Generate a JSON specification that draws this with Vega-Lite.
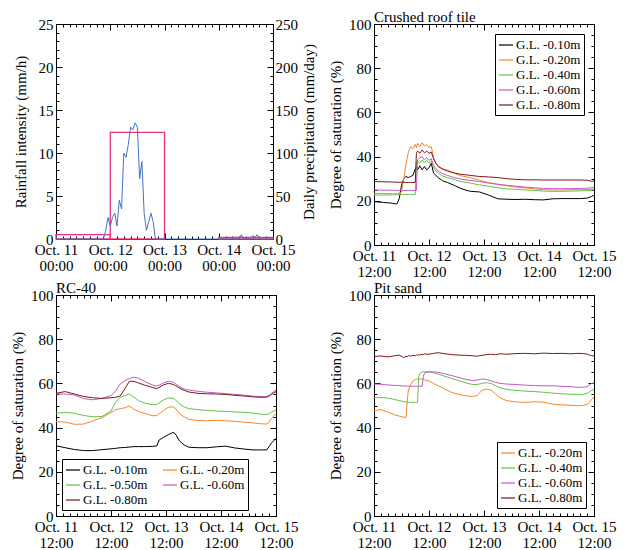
{
"$schema": "https://vega.github.io/schema/vega-lite/v6.json",
"background": "white",
"padding": {"left": 10, "top": 9, "right": 5, "bottom": 0},
"config": {
  "font": "Liberation Serif",
  "view": {"stroke": "black", "strokeWidth": 1},
  "axis": {"labelFont": "Liberation Serif", "titleFont": "Liberation Serif", "labelFontSize": 15, "titleFontSize": 15, "titleFontWeight": "normal", "labelColor": "black", "titleColor": "black", "tickColor": "black", "domainColor": "black", "grid": false, "labelOverlap": false, "labelFlush": false, "labelBound": false},
  "title": {"font": "Liberation Serif", "fontSize": 15, "fontWeight": "normal", "anchor": "start", "frame": "group", "offset": -8, "color": "black"},
  "legend": {"labelFont": "Liberation Serif", "labelFontSize": 13, "labelColor": "black", "symbolType": "stroke", "symbolSize": 196, "symbolStrokeWidth": 1.2, "strokeColor": "black", "fillColor": "white", "padding": 3, "rowPadding": 0, "labelOffset": 2}
},
"datasets": {
  "rain": [
    {"t": "2019-10-11T00:00", "r": 0}, {"t": "2019-10-11T21:00", "r": 0}, {"t": "2019-10-11T22:00", "r": 1.0}, {"t": "2019-10-11T23:00", "r": 2.5},
    {"t": "2019-10-12T00:00", "r": 1.5}, {"t": "2019-10-12T01:00", "r": 2.5}, {"t": "2019-10-12T02:00", "r": 3.0}, {"t": "2019-10-12T03:00", "r": 1.5},
    {"t": "2019-10-12T04:00", "r": 4.5}, {"t": "2019-10-12T05:00", "r": 3.5}, {"t": "2019-10-12T06:00", "r": 10.0}, {"t": "2019-10-12T07:00", "r": 9.5},
    {"t": "2019-10-12T08:00", "r": 11.0}, {"t": "2019-10-12T09:00", "r": 13.0}, {"t": "2019-10-12T10:00", "r": 12.7}, {"t": "2019-10-12T11:00", "r": 13.5},
    {"t": "2019-10-12T12:00", "r": 13.0}, {"t": "2019-10-12T13:00", "r": 7.0}, {"t": "2019-10-12T14:00", "r": 9.0}, {"t": "2019-10-12T15:00", "r": 3.0},
    {"t": "2019-10-12T16:00", "r": 1.0}, {"t": "2019-10-12T17:00", "r": 2.0}, {"t": "2019-10-12T18:00", "r": 3.0}, {"t": "2019-10-12T19:00", "r": 2.0},
    {"t": "2019-10-12T20:00", "r": 0}, {"t": "2019-10-14T09:00", "r": 0}, {"t": "2019-10-14T10:00", "r": 0.5}, {"t": "2019-10-14T11:00", "r": 0},
    {"t": "2019-10-14T14:00", "r": 0}, {"t": "2019-10-14T15:00", "r": 0.4}, {"t": "2019-10-14T16:00", "r": 0.2}, {"t": "2019-10-14T17:00", "r": 0.5},
    {"t": "2019-10-14T18:00", "r": 0}, {"t": "2019-10-15T00:00", "r": 0}
  ],
  "daily": [
    {"s": "2019-10-11T00:00", "e": "2019-10-12T00:00", "p": 5},
    {"s": "2019-10-12T00:00", "e": "2019-10-13T00:00", "p": 124},
    {"s": "2019-10-14T00:00", "e": "2019-10-15T00:00", "p": 2}
  ],
  "crt": [
    {"t": "2019-10-11T12:00", "d10": 19.6, "d20": 23.4, "d40": 22.6, "d60": 24.9, "d80": 28.7},
    {"t": "2019-10-11T16:00", "d10": 19.3, "d20": 23.3, "d40": 22.6, "d60": 24.8, "d80": 28.6},
    {"t": "2019-10-11T20:00", "d10": 18.9, "d20": 23.2, "d40": 22.7, "d60": 24.8, "d80": 28.5},
    {"t": "2019-10-11T22:00", "d10": 18.5, "d20": 23.2, "d40": 22.7, "d60": 24.7, "d80": 28.4},
    {"t": "2019-10-11T23:00", "d10": 21, "d20": 23.5, "d40": 22.8, "d60": 24.7, "d80": 28.4},
    {"t": "2019-10-12T00:00", "d10": 27, "d20": 24, "d40": 22.8, "d60": 24.7, "d80": 28.4},
    {"t": "2019-10-12T01:00", "d10": 30, "d20": 30, "d40": 22.8, "d60": 24.7, "d80": 28.4},
    {"t": "2019-10-12T02:00", "d10": 31, "d20": 37, "d40": 22.9, "d60": 24.7, "d80": 28.3},
    {"t": "2019-10-12T03:00", "d10": 30.5, "d20": 42, "d40": 22.9, "d60": 24.7, "d80": 28.3},
    {"t": "2019-10-12T04:00", "d10": 31, "d20": 44.5, "d40": 22.9, "d60": 24.7, "d80": 28.3},
    {"t": "2019-10-12T05:00", "d10": 31.5, "d20": 43.5, "d40": 22.9, "d60": 24.7, "d80": 28.3},
    {"t": "2019-10-12T06:00", "d10": 34.5, "d20": 45.5, "d40": 22.9, "d60": 24.7, "d80": 28.3},
    {"t": "2019-10-12T06:30", "d10": 35.5, "d20": 44, "d40": 37.5, "d60": 24.7, "d80": 41.5},
    {"t": "2019-10-12T07:00", "d10": 34, "d20": 46, "d40": 38, "d60": 38.5, "d80": 42.5},
    {"t": "2019-10-12T08:00", "d10": 35.8, "d20": 44.5, "d40": 37, "d60": 39.5, "d80": 41.5},
    {"t": "2019-10-12T09:00", "d10": 34, "d20": 46.3, "d40": 38.5, "d60": 40, "d80": 43},
    {"t": "2019-10-12T10:00", "d10": 35.5, "d20": 44.8, "d40": 37.2, "d60": 38.5, "d80": 41.7},
    {"t": "2019-10-12T11:00", "d10": 34, "d20": 45.5, "d40": 38.3, "d60": 39.5, "d80": 42.5},
    {"t": "2019-10-12T12:00", "d10": 35, "d20": 44, "d40": 37, "d60": 38.3, "d80": 41.5},
    {"t": "2019-10-12T13:00", "d10": 37, "d20": 44.5, "d40": 38, "d60": 39, "d80": 42},
    {"t": "2019-10-12T14:00", "d10": 32.5, "d20": 39.5, "d40": 35, "d60": 36, "d80": 39},
    {"t": "2019-10-12T15:00", "d10": 31.5, "d20": 37, "d40": 33.5, "d60": 34.5, "d80": 37},
    {"t": "2019-10-12T16:00", "d10": 30.5, "d20": 35.8, "d40": 32.5, "d60": 33.5, "d80": 35.5},
    {"t": "2019-10-12T18:00", "d10": 29, "d20": 34.5, "d40": 31.2, "d60": 32.3, "d80": 34.3},
    {"t": "2019-10-12T20:00", "d10": 28.3, "d20": 33.8, "d40": 30.5, "d60": 31.5, "d80": 33.5},
    {"t": "2019-10-12T23:00", "d10": 27, "d20": 32.5, "d40": 29.6, "d60": 30.5, "d80": 32.6},
    {"t": "2019-10-13T02:00", "d10": 25.5, "d20": 31.3, "d40": 28.7, "d60": 29.8, "d80": 32},
    {"t": "2019-10-13T06:00", "d10": 24.3, "d20": 30.5, "d40": 28, "d60": 29.2, "d80": 31.5},
    {"t": "2019-10-13T10:00", "d10": 24, "d20": 29.3, "d40": 27.2, "d60": 28.7, "d80": 31},
    {"t": "2019-10-13T14:00", "d10": 22.6, "d20": 28.2, "d40": 26.6, "d60": 28, "d80": 30.8},
    {"t": "2019-10-13T18:00", "d10": 20.9, "d20": 27.4, "d40": 25.9, "d60": 27.5, "d80": 30.5},
    {"t": "2019-10-13T22:00", "d10": 20.7, "d20": 26.8, "d40": 25.4, "d60": 27, "d80": 30},
    {"t": "2019-10-14T02:00", "d10": 20.6, "d20": 26.2, "d40": 25.2, "d60": 26.6, "d80": 29.7},
    {"t": "2019-10-14T06:00", "d10": 20.7, "d20": 25.8, "d40": 24.9, "d60": 26.2, "d80": 29.5},
    {"t": "2019-10-14T10:00", "d10": 20.5, "d20": 25.4, "d40": 24.7, "d60": 25.9, "d80": 29.5},
    {"t": "2019-10-14T14:00", "d10": 20.4, "d20": 25, "d40": 24.4, "d60": 25.6, "d80": 29.4},
    {"t": "2019-10-14T18:00", "d10": 20.9, "d20": 24.9, "d40": 24.3, "d60": 25.5, "d80": 29.4},
    {"t": "2019-10-14T22:00", "d10": 21, "d20": 24.9, "d40": 24.3, "d60": 25.5, "d80": 29.4},
    {"t": "2019-10-15T02:00", "d10": 21, "d20": 25, "d40": 24.4, "d60": 25.5, "d80": 29.4},
    {"t": "2019-10-15T06:00", "d10": 21, "d20": 25, "d40": 24.5, "d60": 25.6, "d80": 29.4},
    {"t": "2019-10-15T09:00", "d10": 21.2, "d20": 25.1, "d40": 24.6, "d60": 25.7, "d80": 29.3},
    {"t": "2019-10-15T11:00", "d10": 22, "d20": 25.2, "d40": 24.8, "d60": 25.9, "d80": 28.8},
    {"t": "2019-10-15T12:00", "d10": 22.6, "d20": 25.2, "d40": 24.9, "d60": 26, "d80": 29}
  ],
  "rc": [
    {"t": "2019-10-11T12:00", "d10": 31.8, "d20": 42.7, "d50": 46.5, "d60": 55.2, "d80": 55.5},
    {"t": "2019-10-11T16:00", "d10": 30.9, "d20": 42.5, "d50": 46.9, "d60": 55.2, "d80": 56.3},
    {"t": "2019-10-11T20:00", "d10": 30.1, "d20": 41.5, "d50": 46.5, "d60": 54.8, "d80": 55.2},
    {"t": "2019-10-12T00:00", "d10": 29.6, "d20": 41.6, "d50": 45.5, "d60": 53.1, "d80": 54.1},
    {"t": "2019-10-12T04:00", "d10": 29.6, "d20": 43, "d50": 44.9, "d60": 52.6, "d80": 53.5},
    {"t": "2019-10-12T08:00", "d10": 30, "d20": 44.5, "d50": 45, "d60": 53.2, "d80": 53.2},
    {"t": "2019-10-12T12:00", "d10": 30.4, "d20": 46.8, "d50": 47.5, "d60": 54.5, "d80": 53.5},
    {"t": "2019-10-12T14:00", "d10": 30.6, "d20": 48.1, "d50": 51.5, "d60": 56.5, "d80": 53.7},
    {"t": "2019-10-12T16:00", "d10": 30.9, "d20": 48.5, "d50": 53.7, "d60": 59.7, "d80": 54.3},
    {"t": "2019-10-12T18:00", "d10": 31, "d20": 49, "d50": 54.5, "d60": 61.2, "d80": 57.5},
    {"t": "2019-10-12T20:00", "d10": 31.2, "d20": 49.8, "d50": 55.2, "d60": 62.2, "d80": 61},
    {"t": "2019-10-12T22:00", "d10": 31.4, "d20": 48.3, "d50": 53.8, "d60": 62.8, "d80": 60.9},
    {"t": "2019-10-13T00:00", "d10": 31.4, "d20": 47.3, "d50": 52.2, "d60": 62.3, "d80": 60.2},
    {"t": "2019-10-13T03:00", "d10": 31.4, "d20": 46.4, "d50": 51, "d60": 60.7, "d80": 59.1},
    {"t": "2019-10-13T06:00", "d10": 31.5, "d20": 45.4, "d50": 50.4, "d60": 59.3, "d80": 58.2},
    {"t": "2019-10-13T08:00", "d10": 31.7, "d20": 45.4, "d50": 50.5, "d60": 58.8, "d80": 57.6},
    {"t": "2019-10-13T09:00", "d10": 34.4, "d20": 46.3, "d50": 51.2, "d60": 59.2, "d80": 58.2},
    {"t": "2019-10-13T11:00", "d10": 35.6, "d20": 47.8, "d50": 52.6, "d60": 60.3, "d80": 59.4},
    {"t": "2019-10-13T13:00", "d10": 36.8, "d20": 49.2, "d50": 53.4, "d60": 61, "d80": 60},
    {"t": "2019-10-13T15:00", "d10": 37.8, "d20": 49.4, "d50": 53.3, "d60": 60.6, "d80": 59.6},
    {"t": "2019-10-13T16:00", "d10": 37.3, "d20": 48.8, "d50": 52.7, "d60": 60, "d80": 59.1},
    {"t": "2019-10-13T18:00", "d10": 33.8, "d20": 46.2, "d50": 50.6, "d60": 58.5, "d80": 57.8},
    {"t": "2019-10-13T20:00", "d10": 32.1, "d20": 44.8, "d50": 49.3, "d60": 57.4, "d80": 56.8},
    {"t": "2019-10-13T22:00", "d10": 31.1, "d20": 43.7, "d50": 48.6, "d60": 57, "d80": 56.1},
    {"t": "2019-10-14T02:00", "d10": 30.9, "d20": 43.2, "d50": 48.1, "d60": 56.4, "d80": 55.5},
    {"t": "2019-10-14T06:00", "d10": 30.9, "d20": 43.1, "d50": 47.8, "d60": 56, "d80": 55.3},
    {"t": "2019-10-14T10:00", "d10": 31.3, "d20": 43.3, "d50": 47.5, "d60": 55.7, "d80": 55.2},
    {"t": "2019-10-14T14:00", "d10": 31.6, "d20": 43.1, "d50": 47.3, "d60": 55.4, "d80": 55},
    {"t": "2019-10-14T18:00", "d10": 30.8, "d20": 42.8, "d50": 47.1, "d60": 55, "d80": 54.6},
    {"t": "2019-10-14T22:00", "d10": 30.3, "d20": 42.5, "d50": 46.9, "d60": 54.7, "d80": 54.3},
    {"t": "2019-10-15T02:00", "d10": 29.9, "d20": 42.1, "d50": 46.6, "d60": 54.2, "d80": 53.9},
    {"t": "2019-10-15T06:00", "d10": 29.9, "d20": 41.7, "d50": 46, "d60": 54, "d80": 53.7},
    {"t": "2019-10-15T08:00", "d10": 29.9, "d20": 41.6, "d50": 45.9, "d60": 54.1, "d80": 53.8},
    {"t": "2019-10-15T09:00", "d10": 31.5, "d20": 42.5, "d50": 46.3, "d60": 54.6, "d80": 54.3},
    {"t": "2019-10-15T10:00", "d10": 33, "d20": 44, "d50": 47, "d60": 55.5, "d80": 55},
    {"t": "2019-10-15T12:00", "d10": 35.1, "d20": 46.5, "d50": 48, "d60": 57, "d80": 56.3}
  ],
  "ps": [
    {"t": "2019-10-11T12:00", "d20": 47.7, "d40": 53.5, "d60": 59.7, "d80": 72.2},
    {"t": "2019-10-11T15:00", "d20": 48.1, "d40": 53.6, "d60": 59.6, "d80": 72.4},
    {"t": "2019-10-11T18:00", "d20": 47, "d40": 53.4, "d60": 59.3, "d80": 72},
    {"t": "2019-10-11T21:00", "d20": 45.8, "d40": 52.7, "d60": 59.1, "d80": 72.5},
    {"t": "2019-10-11T23:00", "d20": 45.2, "d40": 52.2, "d60": 59, "d80": 72.8},
    {"t": "2019-10-12T01:00", "d20": 44.7, "d40": 51.8, "d60": 58.8, "d80": 71.7},
    {"t": "2019-10-12T02:00", "d20": 44.6, "d40": 51.6, "d60": 58.8, "d80": 72.3},
    {"t": "2019-10-12T02:30", "d20": 52, "d40": 51.5, "d60": 58.8, "d80": 72},
    {"t": "2019-10-12T03:00", "d20": 57, "d40": 51.5, "d60": 58.8, "d80": 72.6},
    {"t": "2019-10-12T04:00", "d20": 59.5, "d40": 51.4, "d60": 58.7, "d80": 72.3},
    {"t": "2019-10-12T05:00", "d20": 61.2, "d40": 51.4, "d60": 58.7, "d80": 72.8},
    {"t": "2019-10-12T06:00", "d20": 61.7, "d40": 51.4, "d60": 58.7, "d80": 72.5},
    {"t": "2019-10-12T06:30", "d20": 61.9, "d40": 51.4, "d60": 58.7, "d80": 73},
    {"t": "2019-10-12T07:00", "d20": 62, "d40": 51.4, "d60": 58.7, "d80": 72.7},
    {"t": "2019-10-12T07:30", "d20": 62, "d40": 63, "d60": 58.7, "d80": 73},
    {"t": "2019-10-12T08:00", "d20": 62, "d40": 64.5, "d60": 58.7, "d80": 72.8},
    {"t": "2019-10-12T09:00", "d20": 62, "d40": 65.2, "d60": 58.7, "d80": 73.2},
    {"t": "2019-10-12T09:30", "d20": 61.8, "d40": 65.3, "d60": 63, "d80": 73},
    {"t": "2019-10-12T10:00", "d20": 61.6, "d40": 65.3, "d60": 64.7, "d80": 73.3},
    {"t": "2019-10-12T12:00", "d20": 61.1, "d40": 65.2, "d60": 65.3, "d80": 73.2},
    {"t": "2019-10-12T14:00", "d20": 60, "d40": 64.8, "d60": 65.2, "d80": 73.6},
    {"t": "2019-10-12T16:00", "d20": 58.9, "d40": 64.2, "d60": 65, "d80": 73.9},
    {"t": "2019-10-12T19:00", "d20": 57.4, "d40": 63.2, "d60": 64.3, "d80": 73.4},
    {"t": "2019-10-12T22:00", "d20": 55.9, "d40": 62.2, "d60": 63.5, "d80": 73},
    {"t": "2019-10-13T01:00", "d20": 55, "d40": 61.2, "d60": 62.7, "d80": 72.8},
    {"t": "2019-10-13T04:00", "d20": 54.4, "d40": 60.3, "d60": 61.8, "d80": 72.7},
    {"t": "2019-10-13T07:00", "d20": 54.1, "d40": 59.5, "d60": 61.3, "d80": 72.5},
    {"t": "2019-10-13T09:00", "d20": 54.5, "d40": 59.5, "d60": 61.5, "d80": 72.3},
    {"t": "2019-10-13T11:00", "d20": 56.8, "d40": 60, "d60": 62, "d80": 72.7},
    {"t": "2019-10-13T13:00", "d20": 57.4, "d40": 60.3, "d60": 61.8, "d80": 73},
    {"t": "2019-10-13T15:00", "d20": 57, "d40": 60, "d60": 61.2, "d80": 73.2},
    {"t": "2019-10-13T17:00", "d20": 55.3, "d40": 59, "d60": 60.5, "d80": 73},
    {"t": "2019-10-13T19:00", "d20": 53.4, "d40": 58, "d60": 60, "d80": 73.4},
    {"t": "2019-10-13T22:00", "d20": 52.2, "d40": 57.3, "d60": 59.7, "d80": 73.2},
    {"t": "2019-10-14T02:00", "d20": 51.6, "d40": 56.8, "d60": 59.5, "d80": 73.5},
    {"t": "2019-10-14T06:00", "d20": 51.4, "d40": 56.5, "d60": 59.2, "d80": 73.6},
    {"t": "2019-10-14T10:00", "d20": 51.7, "d40": 56.3, "d60": 59, "d80": 73.4},
    {"t": "2019-10-14T14:00", "d20": 51.5, "d40": 56, "d60": 58.9, "d80": 73.7},
    {"t": "2019-10-14T18:00", "d20": 50.6, "d40": 55.6, "d60": 58.9, "d80": 73.5},
    {"t": "2019-10-14T22:00", "d20": 50.3, "d40": 55.3, "d60": 58.7, "d80": 73.6},
    {"t": "2019-10-15T02:00", "d20": 50.1, "d40": 55.1, "d60": 58.5, "d80": 73.4},
    {"t": "2019-10-15T05:00", "d20": 49.9, "d40": 55, "d60": 58.2, "d80": 73.6},
    {"t": "2019-10-15T07:00", "d20": 50, "d40": 55, "d60": 58.3, "d80": 73.5},
    {"t": "2019-10-15T09:00", "d20": 50.5, "d40": 55.5, "d60": 58.5, "d80": 73.3},
    {"t": "2019-10-15T10:00", "d20": 51.5, "d40": 56.2, "d60": 59.3, "d80": 72.8},
    {"t": "2019-10-15T11:00", "d20": 52.8, "d40": 56.8, "d60": 60, "d80": 72.6},
    {"t": "2019-10-15T12:00", "d20": 53.7, "d40": 57.4, "d60": 60.2, "d80": 72.4}
  ]
},
"columns": 2,
"spacing": {"row": 0, "column": 11},
"resolve": {"scale": {"color": "independent"}, "legend": {"color": "independent"}},
"concat": [
  {
    "width": 217, "height": 215,
    "layer": [
      {
        "data": {"name": "daily"},
        "mark": {"type": "rect", "fill": "transparent", "stroke": "#e8327f", "strokeWidth": 1.3},
        "encoding": {
          "x": {"field": "s", "type": "temporal", "scale": {"nice": false},
                "axis": {"orient": "top", "title": null, "labels": false, "values": [{"year": 2019, "month": 10, "date": 11, "hours": 0}, {"year": 2019, "month": 10, "date": 12, "hours": 0}, {"year": 2019, "month": 10, "date": 13, "hours": 0}, {"year": 2019, "month": 10, "date": 14, "hours": 0}, {"year": 2019, "month": 10, "date": 15, "hours": 0}], "tickSize": -6}},
          "x2": {"field": "e"},
          "y": {"field": "p", "type": "quantitative", "scale": {"domain": [0, 250], "nice": false},
                "axis": {"orient": "right", "title": "Daily precipitation (mm/day)", "titleAngle": 270, "titleBaseline": "top", "values": [0, 50, 100, 150, 200, 250], "tickSize": -6, "labelPadding": 8, "titlePadding": 4}},
          "y2": {"datum": 0}
        }
      },
      {
        "data": {"name": "rain"},
        "mark": {"type": "line", "color": "#4472c4", "strokeWidth": 1},
        "encoding": {
          "x": {"field": "t", "type": "temporal", "scale": {"nice": false},
                "axis": {"orient": "bottom", "title": null, "format": "Oct. %d", "values": [{"year": 2019, "month": 10, "date": 11, "hours": 0}, {"year": 2019, "month": 10, "date": 12, "hours": 0}, {"year": 2019, "month": 10, "date": 13, "hours": 0}, {"year": 2019, "month": 10, "date": 14, "hours": 0}, {"year": 2019, "month": 10, "date": 15, "hours": 0}], "tickSize": -6, "labelPadding": 9}},
          "y": {"field": "r", "type": "quantitative", "scale": {"domain": [0, 25], "nice": false},
                "axis": {"orient": "left", "title": "Rainfall intensity (mm/h)", "values": [0, 5, 10, 15, 20, 25], "tickSize": -6, "labelPadding": 9, "titlePadding": 10}}
        }
      },
      {
        "data": {"name": "rain"},
        "mark": {"type": "line", "opacity": 0},
        "encoding": {
          "x": {"field": "t", "type": "temporal", "scale": {"nice": false},
                "axis": {"orient": "bottom", "title": null, "format": "%H:%M", "domain": false, "tickOpacity": 0, "values": [{"year": 2019, "month": 10, "date": 11, "hours": 0}, {"year": 2019, "month": 10, "date": 12, "hours": 0}, {"year": 2019, "month": 10, "date": 13, "hours": 0}, {"year": 2019, "month": 10, "date": 14, "hours": 0}, {"year": 2019, "month": 10, "date": 15, "hours": 0}], "tickSize": -6, "labelPadding": 25}},
          "y": {"field": "r", "type": "quantitative", "scale": {"domain": [0, 25], "nice": false},
                "axis": {"orient": "left", "title": null, "labels": false, "values": [1,2,3,4,6,7,8,9,11,12,13,14,16,17,18,19,21,22,23,24], "tickSize": -3}}
        }
      },
      {
        "data": {"name": "rain"},
        "mark": {"type": "line", "opacity": 0},
        "encoding": {
          "x": {"field": "t", "type": "temporal", "scale": {"nice": false},
                "axis": {"orient": "bottom", "title": null, "labels": false, "tickCount": 48, "tickSize": -3}},
          "y": {"field": "r", "type": "quantitative", "scale": {"domain": [0, 250], "nice": false},
                "axis": {"orient": "right", "title": null, "labels": false, "values": [10,20,30,40,60,70,80,90,110,120,130,140,160,170,180,190,210,220,230,240], "tickSize": -3}}
        }
      },
      {
        "data": {"name": "rain"},
        "mark": {"type": "line", "opacity": 0},
        "encoding": {
          "x": {"field": "t", "type": "temporal", "scale": {"nice": false},
                "axis": {"orient": "top", "title": null, "labels": false, "tickCount": 48, "tickSize": -3}},
          "y": {"field": "r", "type": "quantitative", "scale": {"domain": [0, 25], "nice": false}, "axis": null}
        }
      }
    ],
    "resolve": {"scale": {"y": "independent"}, "axis": {"x": "independent", "y": "independent"}}
  },
  {
    "title": "Crushed roof tile",
    "width": 220, "height": 221,
    "data": {"name": "crt"},
    "layer": [
      {
        "mark": {"type": "line", "strokeWidth": 1},
        "encoding": {
          "x": {"field": "t", "type": "temporal", "scale": {"nice": false},
                "axis": {"orient": "bottom", "title": null, "format": "Oct. %d", "values": [{"year": 2019, "month": 10, "date": 11, "hours": 12}, {"year": 2019, "month": 10, "date": 12, "hours": 12}, {"year": 2019, "month": 10, "date": 13, "hours": 12}, {"year": 2019, "month": 10, "date": 14, "hours": 12}, {"year": 2019, "month": 10, "date": 15, "hours": 12}], "tickSize": -6, "labelPadding": 9}},
          "y": {"field": "d10", "type": "quantitative", "scale": {"domain": [0, 100], "nice": false},
                "axis": {"orient": "left", "title": "Degree of saturation (%)", "values": [0, 20, 40, 60, 80, 100], "tickSize": -6, "labelPadding": 9, "titlePadding": 5}},
          "color": {"datum": "G.L. -0.10m", "scale": {"domain": ["G.L. -0.10m", "G.L. -0.20m", "G.L. -0.40m", "G.L. -0.60m", "G.L. -0.80m"], "range": ["#000000", "#f7862e", "#62c14a", "#c458c4", "#7a1a1a"]},
                    "legend": {"title": null, "orient": "top-right", "offset": 10}}
        }
      },
      {
        "mark": {"type": "line", "strokeWidth": 1},
        "encoding": {
          "x": {"field": "t", "type": "temporal", "scale": {"nice": false},
                "axis": {"orient": "bottom", "title": null, "format": "%H:%M", "domain": false, "tickOpacity": 0, "values": [{"year": 2019, "month": 10, "date": 11, "hours": 12}, {"year": 2019, "month": 10, "date": 12, "hours": 12}, {"year": 2019, "month": 10, "date": 13, "hours": 12}, {"year": 2019, "month": 10, "date": 14, "hours": 12}, {"year": 2019, "month": 10, "date": 15, "hours": 12}], "tickSize": -6, "labelPadding": 25}},
          "y": {"field": "d20", "type": "quantitative", "axis": {"orient": "left", "title": null, "labels": false, "values": [5,10,15,25,30,35,45,50,55,65,70,75,85,90,95], "tickSize": -3}},
          "color": {"datum": "G.L. -0.20m"}
        }
      },
      {
        "mark": {"type": "line", "strokeWidth": 1},
        "encoding": {
          "x": {"field": "t", "type": "temporal", "scale": {"nice": false},
                "axis": {"orient": "bottom", "title": null, "labels": false, "tickCount": 48, "tickSize": -3}},
          "y": {"field": "d40", "type": "quantitative", "axis": {"orient": "right", "title": null, "labels": false, "values": [0, 20, 40, 60, 80, 100], "tickSize": -6}},
          "color": {"datum": "G.L. -0.40m"}
        }
      },
      {
        "mark": {"type": "line", "strokeWidth": 1},
        "encoding": {
          "x": {"field": "t", "type": "temporal", "scale": {"nice": false},
                "axis": {"orient": "top", "title": null, "labels": false, "values": [{"year": 2019, "month": 10, "date": 11, "hours": 12}, {"year": 2019, "month": 10, "date": 12, "hours": 12}, {"year": 2019, "month": 10, "date": 13, "hours": 12}, {"year": 2019, "month": 10, "date": 14, "hours": 12}, {"year": 2019, "month": 10, "date": 15, "hours": 12}], "tickSize": -6}},
          "y": {"field": "d60", "type": "quantitative", "axis": {"orient": "right", "title": null, "labels": false, "values": [5,10,15,25,30,35,45,50,55,65,70,75,85,90,95], "tickSize": -3}},
          "color": {"datum": "G.L. -0.60m"}
        }
      },
      {
        "mark": {"type": "line", "strokeWidth": 1},
        "encoding": {
          "x": {"field": "t", "type": "temporal", "scale": {"nice": false},
                "axis": {"orient": "top", "title": null, "labels": false, "tickCount": 48, "tickSize": -3}},
          "y": {"field": "d80", "type": "quantitative", "axis": null},
          "color": {"datum": "G.L. -0.80m"}
        }
      }
    ],
    "resolve": {"axis": {"x": "independent", "y": "independent"}}
  },
  {
    "title": "RC-40",
    "width": 220, "height": 221,
    "data": {"name": "rc"},
    "layer": [
      {
        "mark": {"type": "line", "strokeWidth": 1},
        "encoding": {
          "x": {"field": "t", "type": "temporal", "scale": {"nice": false},
                "axis": {"orient": "bottom", "title": null, "format": "Oct. %d", "values": [{"year": 2019, "month": 10, "date": 11, "hours": 12}, {"year": 2019, "month": 10, "date": 12, "hours": 12}, {"year": 2019, "month": 10, "date": 13, "hours": 12}, {"year": 2019, "month": 10, "date": 14, "hours": 12}, {"year": 2019, "month": 10, "date": 15, "hours": 12}], "tickSize": -6, "labelPadding": 9}},
          "y": {"field": "d10", "type": "quantitative", "scale": {"domain": [0, 100], "nice": false},
                "axis": {"orient": "left", "title": "Degree of saturation (%)", "values": [0, 20, 40, 60, 80, 100], "tickSize": -6, "labelPadding": 9, "titlePadding": 5}},
          "color": {"datum": "G.L. -0.10m", "scale": {"domain": ["G.L. -0.10m", "G.L. -0.20m", "G.L. -0.50m", "G.L. -0.60m", "G.L. -0.80m"], "range": ["#000000", "#f7862e", "#62c14a", "#c458c4", "#7a1a1a"]},
                    "legend": {"title": null, "orient": "bottom-left", "offset": 6, "direction": "horizontal", "columns": 2, "columnPadding": 12}}
        }
      },
      {
        "mark": {"type": "line", "strokeWidth": 1},
        "encoding": {
          "x": {"field": "t", "type": "temporal", "scale": {"nice": false},
                "axis": {"orient": "bottom", "title": null, "format": "%H:%M", "domain": false, "tickOpacity": 0, "values": [{"year": 2019, "month": 10, "date": 11, "hours": 12}, {"year": 2019, "month": 10, "date": 12, "hours": 12}, {"year": 2019, "month": 10, "date": 13, "hours": 12}, {"year": 2019, "month": 10, "date": 14, "hours": 12}, {"year": 2019, "month": 10, "date": 15, "hours": 12}], "tickSize": -6, "labelPadding": 25}},
          "y": {"field": "d20", "type": "quantitative", "axis": {"orient": "left", "title": null, "labels": false, "values": [5,10,15,25,30,35,45,50,55,65,70,75,85,90,95], "tickSize": -3}},
          "color": {"datum": "G.L. -0.20m"}
        }
      },
      {
        "mark": {"type": "line", "strokeWidth": 1},
        "encoding": {
          "x": {"field": "t", "type": "temporal", "scale": {"nice": false},
                "axis": {"orient": "bottom", "title": null, "labels": false, "tickCount": 48, "tickSize": -3}},
          "y": {"field": "d50", "type": "quantitative", "axis": {"orient": "right", "title": null, "labels": false, "values": [0, 20, 40, 60, 80, 100], "tickSize": -6}},
          "color": {"datum": "G.L. -0.50m"}
        }
      },
      {
        "mark": {"type": "line", "strokeWidth": 1},
        "encoding": {
          "x": {"field": "t", "type": "temporal", "scale": {"nice": false},
                "axis": {"orient": "top", "title": null, "labels": false, "values": [{"year": 2019, "month": 10, "date": 11, "hours": 12}, {"year": 2019, "month": 10, "date": 12, "hours": 12}, {"year": 2019, "month": 10, "date": 13, "hours": 12}, {"year": 2019, "month": 10, "date": 14, "hours": 12}, {"year": 2019, "month": 10, "date": 15, "hours": 12}], "tickSize": -6}},
          "y": {"field": "d60", "type": "quantitative", "axis": {"orient": "right", "title": null, "labels": false, "values": [5,10,15,25,30,35,45,50,55,65,70,75,85,90,95], "tickSize": -3}},
          "color": {"datum": "G.L. -0.60m"}
        }
      },
      {
        "mark": {"type": "line", "strokeWidth": 1},
        "encoding": {
          "x": {"field": "t", "type": "temporal", "scale": {"nice": false},
                "axis": {"orient": "top", "title": null, "labels": false, "tickCount": 48, "tickSize": -3}},
          "y": {"field": "d80", "type": "quantitative", "axis": null},
          "color": {"datum": "G.L. -0.80m"}
        }
      }
    ],
    "resolve": {"axis": {"x": "independent", "y": "independent"}}
  },
  {
    "title": "Pit sand",
    "width": 220, "height": 221,
    "data": {"name": "ps"},
    "layer": [
      {
        "mark": {"type": "line", "strokeWidth": 1},
        "encoding": {
          "x": {"field": "t", "type": "temporal", "scale": {"nice": false},
                "axis": {"orient": "bottom", "title": null, "format": "Oct. %d", "values": [{"year": 2019, "month": 10, "date": 11, "hours": 12}, {"year": 2019, "month": 10, "date": 12, "hours": 12}, {"year": 2019, "month": 10, "date": 13, "hours": 12}, {"year": 2019, "month": 10, "date": 14, "hours": 12}, {"year": 2019, "month": 10, "date": 15, "hours": 12}], "tickSize": -6, "labelPadding": 9}},
          "y": {"field": "d20", "type": "quantitative", "scale": {"domain": [0, 100], "nice": false},
                "axis": {"orient": "left", "title": "Degree of saturation (%)", "values": [0, 20, 40, 60, 80, 100], "tickSize": -6, "labelPadding": 9, "titlePadding": 5}},
          "color": {"datum": "G.L. -0.20m", "scale": {"domain": ["G.L. -0.20m", "G.L. -0.40m", "G.L. -0.60m", "G.L. -0.80m"], "range": ["#f7862e", "#62c14a", "#c458c4", "#7a1a1a"]},
                    "legend": {"title": null, "orient": "bottom-right", "offset": 8}}
        }
      },
      {
        "mark": {"type": "line", "strokeWidth": 1},
        "encoding": {
          "x": {"field": "t", "type": "temporal", "scale": {"nice": false},
                "axis": {"orient": "bottom", "title": null, "format": "%H:%M", "domain": false, "tickOpacity": 0, "values": [{"year": 2019, "month": 10, "date": 11, "hours": 12}, {"year": 2019, "month": 10, "date": 12, "hours": 12}, {"year": 2019, "month": 10, "date": 13, "hours": 12}, {"year": 2019, "month": 10, "date": 14, "hours": 12}, {"year": 2019, "month": 10, "date": 15, "hours": 12}], "tickSize": -6, "labelPadding": 25}},
          "y": {"field": "d40", "type": "quantitative", "axis": {"orient": "left", "title": null, "labels": false, "values": [5,10,15,25,30,35,45,50,55,65,70,75,85,90,95], "tickSize": -3}},
          "color": {"datum": "G.L. -0.40m"}
        }
      },
      {
        "mark": {"type": "line", "strokeWidth": 1},
        "encoding": {
          "x": {"field": "t", "type": "temporal", "scale": {"nice": false},
                "axis": {"orient": "bottom", "title": null, "labels": false, "tickCount": 48, "tickSize": -3}},
          "y": {"field": "d60", "type": "quantitative", "axis": {"orient": "right", "title": null, "labels": false, "values": [0, 20, 40, 60, 80, 100], "tickSize": -6}},
          "color": {"datum": "G.L. -0.60m"}
        }
      },
      {
        "mark": {"type": "line", "strokeWidth": 1},
        "encoding": {
          "x": {"field": "t", "type": "temporal", "scale": {"nice": false},
                "axis": {"orient": "top", "title": null, "labels": false, "values": [{"year": 2019, "month": 10, "date": 11, "hours": 12}, {"year": 2019, "month": 10, "date": 12, "hours": 12}, {"year": 2019, "month": 10, "date": 13, "hours": 12}, {"year": 2019, "month": 10, "date": 14, "hours": 12}, {"year": 2019, "month": 10, "date": 15, "hours": 12}], "tickSize": -6}},
          "y": {"field": "d80", "type": "quantitative", "axis": {"orient": "right", "title": null, "labels": false, "values": [5,10,15,25,30,35,45,50,55,65,70,75,85,90,95], "tickSize": -3}},
          "color": {"datum": "G.L. -0.80m"}
        }
      },
      {
        "mark": {"type": "line", "opacity": 0},
        "encoding": {
          "x": {"field": "t", "type": "temporal", "scale": {"nice": false},
                "axis": {"orient": "top", "title": null, "labels": false, "tickCount": 48, "tickSize": -3}},
          "y": {"field": "d80", "type": "quantitative", "axis": null}
        }
      }
    ],
    "resolve": {"axis": {"x": "independent", "y": "independent"}}
  }
]
}
